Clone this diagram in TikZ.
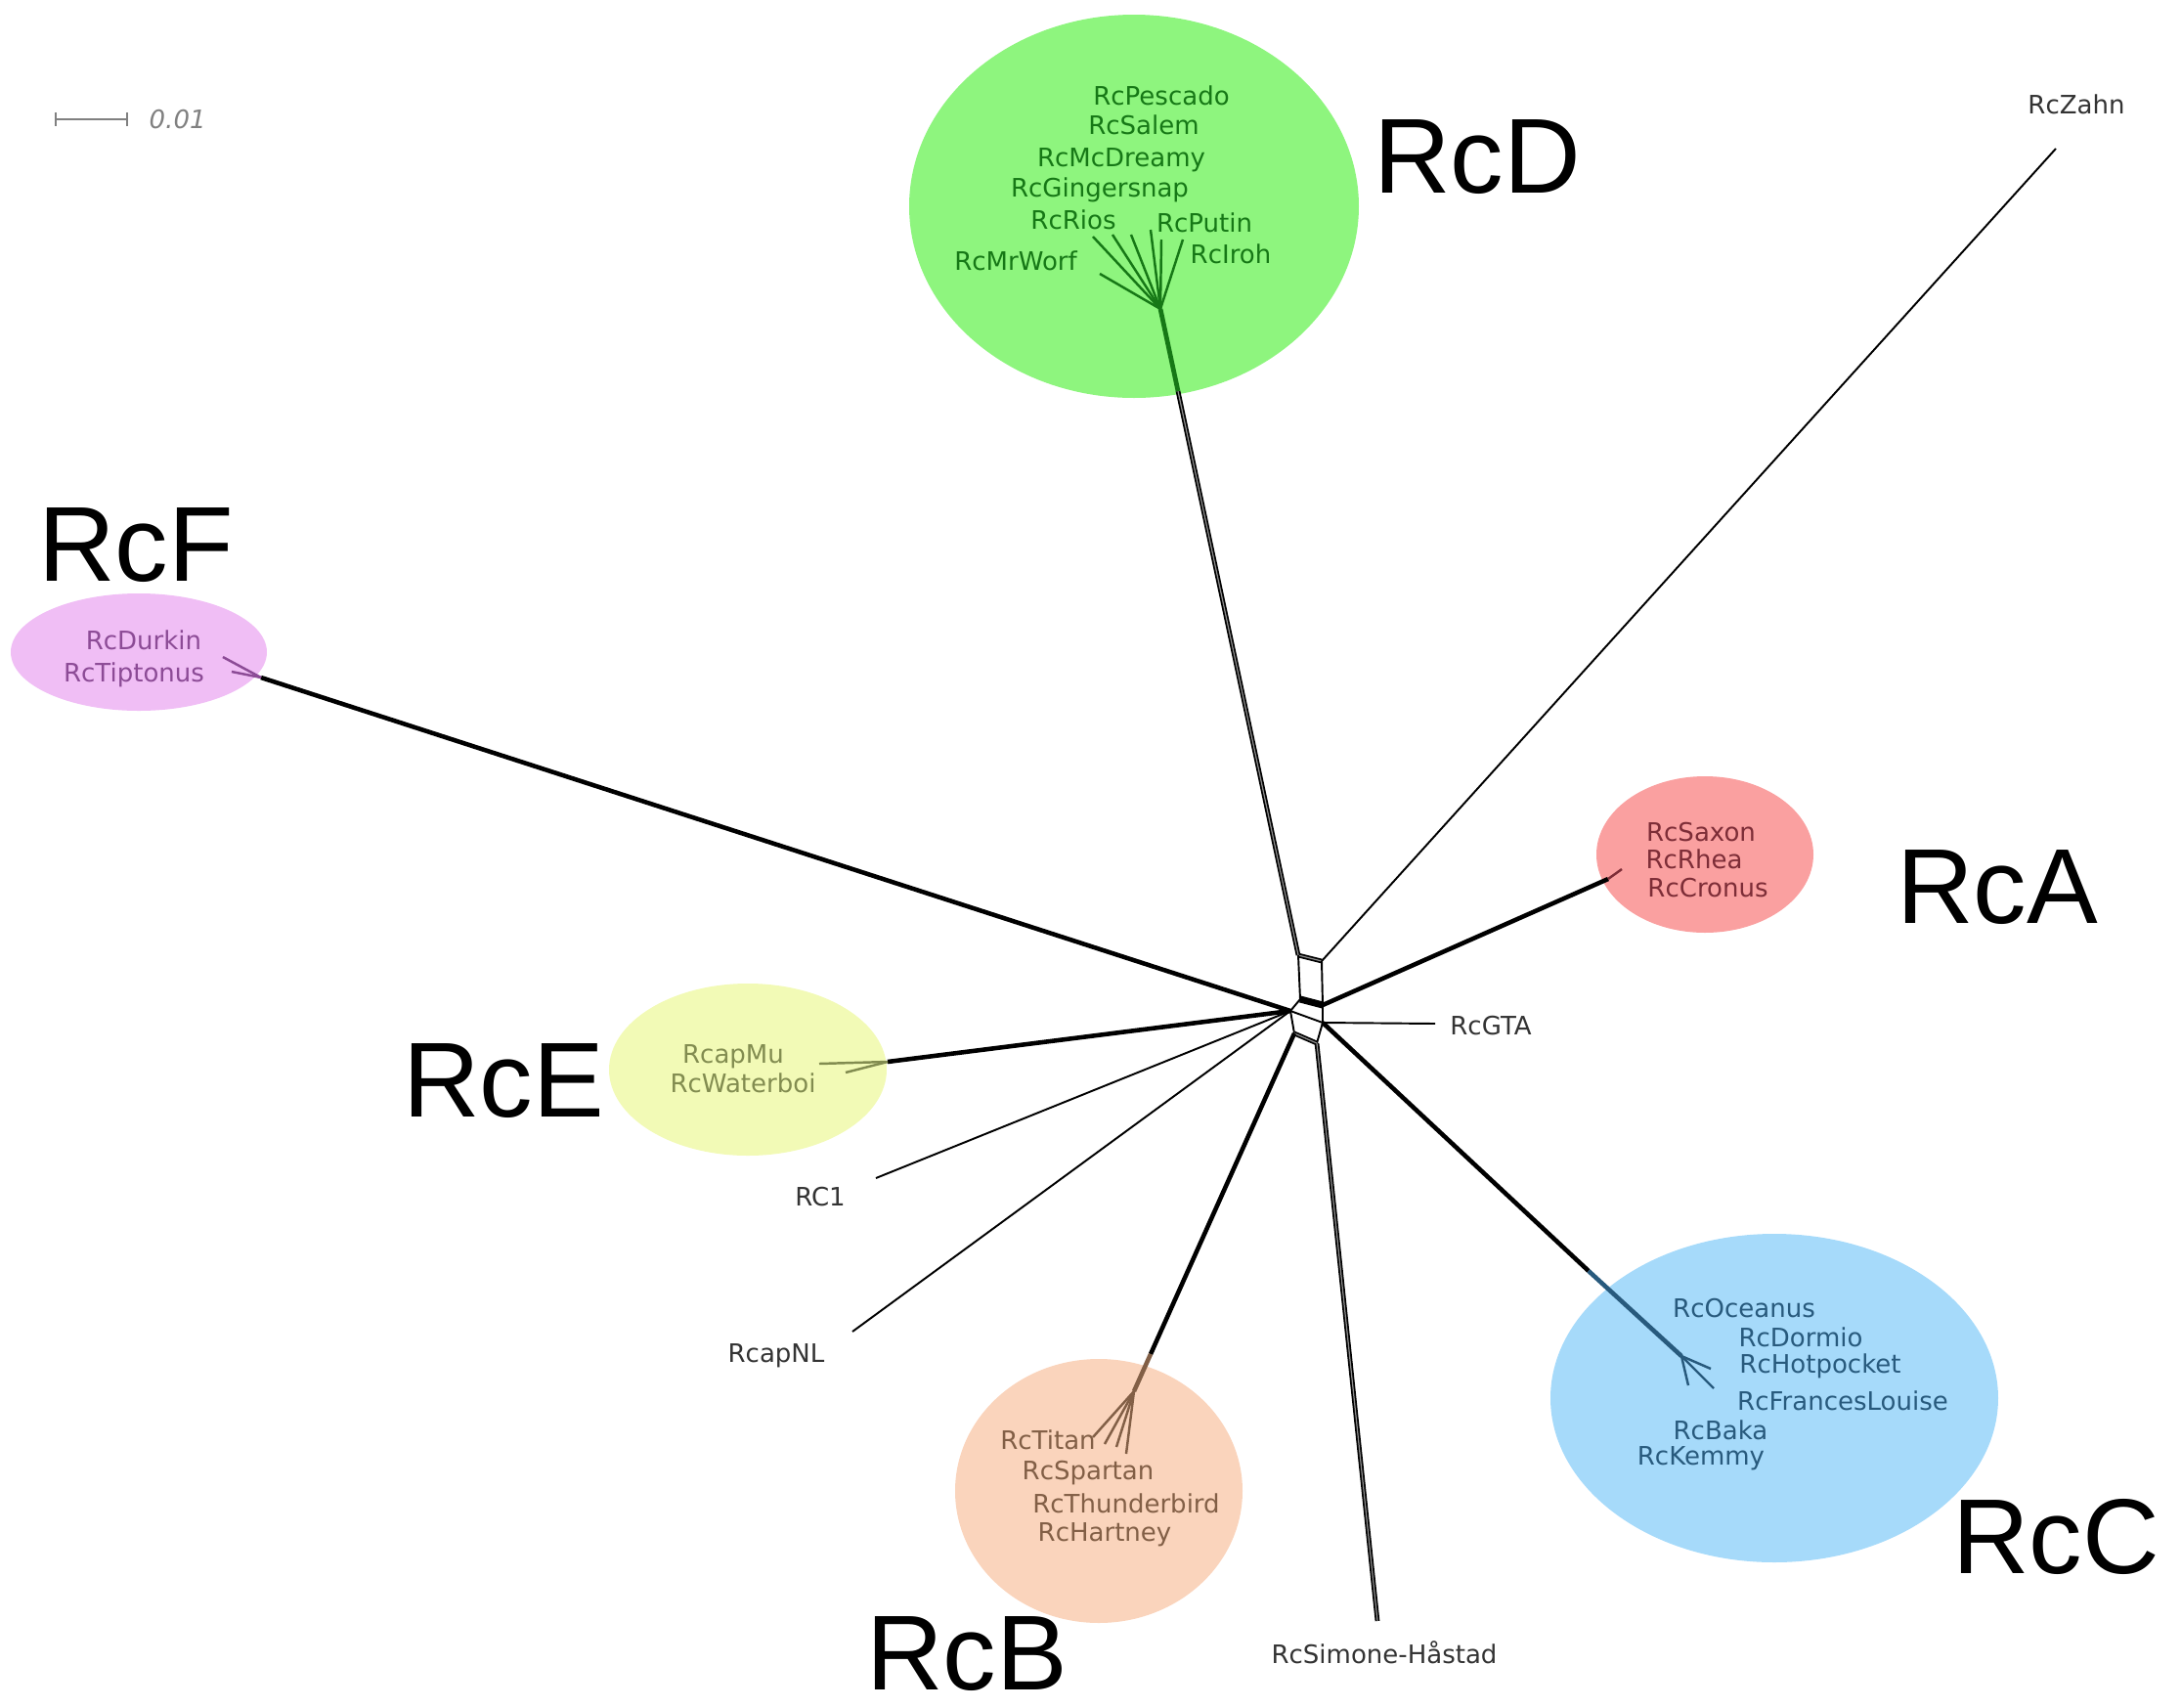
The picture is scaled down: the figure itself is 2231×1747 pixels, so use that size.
\documentclass[tikz,border=0pt]{standalone}
\usepackage{fontspec}
\setmainfont{DejaVu Sans}
\newfontfamily\cladefont{Liberation Sans}
\usetikzlibrary{shapes.geometric}

\definecolor{dfill}{RGB}{142,245,126}
\definecolor{dtext}{RGB}{22,120,22}
\definecolor{ffill}{RGB}{240,190,245}
\definecolor{ftext}{RGB}{140,75,150}
\definecolor{efill}{RGB}{242,250,182}
\definecolor{etext}{RGB}{130,140,80}
\definecolor{afill}{RGB}{250,160,160}
\definecolor{atext}{RGB}{125,45,55}
\definecolor{cfill}{RGB}{166,218,250}
\definecolor{ctext}{RGB}{40,90,125}
\definecolor{bfill}{RGB}{250,212,188}
\definecolor{btext}{RGB}{130,95,70}

\begin{document}
\begin{tikzpicture}[x=0.1mm, y=-0.1mm]
\tikzstyle{taxon}=[font=\fontsize{7.4}{8}\selectfont, inner sep=0pt, text=black!80]
\tikzstyle{clade}=[font=\cladefont\fontsize{31}{34}\selectfont, inner sep=0pt]
\tikzstyle{blob}=[ellipse, inner sep=0pt]
\tikzstyle{edge}=[line width=0.55pt]
\tikzstyle{stem}=[line width=1.3pt]
\tikzstyle{twin}=[line width=0.5pt, double=black!45, double distance=0.35pt]
\tikzstyle{fan}=[line width=0.7pt]
\useasboundingbox (0,0) rectangle (2231,1747);

% clade backgrounds
\node[blob, fill=dfill, minimum width=46mm, minimum height=39.2mm] (D) at (1160,211) {};
\node[blob, fill=ffill, minimum width=26.2mm, minimum height=12mm] (F) at (142,667) {};
\node[blob, fill=efill, minimum width=28.4mm, minimum height=17.6mm] (E) at (765,1094) {};
\node[blob, fill=afill, minimum width=22.2mm, minimum height=16mm] (A) at (1744,874) {};
\node[blob, fill=cfill, minimum width=45.8mm, minimum height=33.6mm] (C) at (1815,1430) {};
\node[blob, fill=bfill, minimum width=29.4mm, minimum height=27mm] (B) at (1124,1525) {};

% splits in the middle
\coordinate (p1) at (1328,977);
\coordinate (p2) at (1352,983);
\coordinate (p3) at (1330,1022);
\coordinate (p4) at (1353,1028);
\coordinate (p5) at (1320,1034);
\coordinate (p6) at (1353,1046);
\coordinate (p7) at (1324,1057);
\coordinate (p8) at (1347,1067);
\draw[twin] (p1) -- (p2);
\draw[edge] (p1) -- (p3) -- (p5) -- (p7);
\draw[edge] (p2) -- (p4) -- (p6) -- (p8);
\draw[line width=2pt] (p3) -- (p4);
\draw[edge] (p5) -- (p6);
\draw[twin] (p7) -- (p8);

% hubs and tips
\coordinate (hD) at (1187,316);
\coordinate (eD) at (1205,400);
\coordinate (tZ) at (2103,152);
\coordinate (eA) at (1645,899);
\coordinate (hA) at (1659,889);
\coordinate (tG) at (1468,1047);
\coordinate (eC) at (1625,1300);
\coordinate (hC) at (1720,1387);
\coordinate (tS) at (1409,1658);
\coordinate (eB) at (1177,1385);
\coordinate (hB) at (1160,1423);
\coordinate (tN) at (872,1362);
\coordinate (t1) at (896,1205);
\coordinate (eE) at (908,1086);
\coordinate (hF) at (267,693);

\draw[twin] (p1) -- (eD);
\draw[twin, dtext, double=dtext] (eD) -- (hD);
\draw[edge] (p2) -- (tZ);
\draw[stem] (p4) -- (eA);
\draw[fan, atext] (eA) -- (hA);
\draw[edge] (p6) -- (tG);
\draw[stem] (p6) -- (eC);
\draw[stem, ctext] (eC) -- (hC);
\draw[twin] (p8) -- (tS);
\draw[stem] (p7) -- (eB);
\draw[stem, btext] (eB) -- (hB);
\draw[edge] (p5) -- (tN);
\draw[edge] (p5) -- (t1);
\draw[stem] (p5) -- (eE);
\draw[stem] (p5) -- (hF);

% fans
\foreach \x/\y in {1118/242, 1138/240, 1157/240, 1177/235, 1188/245, 1210/245, 1125/280}
  \draw[fan, dtext] (hD) -- (\x,\y);
\foreach \x/\y in {1727/1417, 1753/1420, 1750/1400}
  \draw[fan, ctext] (hC) -- (\x,\y);
\foreach \x/\y in {1118/1470, 1130/1477, 1142/1480, 1152/1487}
  \draw[fan, btext] (hB) -- (\x,\y);
\foreach \x/\y in {228/672, 237/687}
  \draw[fan, ftext] (hF) -- (\x,\y);
\foreach \x/\y in {838/1088, 865/1097}
  \draw[fan, etext] (eE) -- (\x,\y);

% taxa
\node[taxon, text=dtext] (d0) at (1188,98) {RcPescado};
\node[taxon, text=dtext] (d1) at (1170,128) {RcSalem};
\node[taxon, text=dtext] (d2) at (1147,164) {RcMcDreamy};
\node[taxon, text=dtext] (d3) at (1125,194) {RcGingersnap};
\node[taxon, text=dtext] (d4) at (1098,225) {RcRios};
\node[taxon, text=dtext] (d5) at (1232,228) {RcPutin};
\node[taxon, text=dtext] (d6) at (1259,260) {RcIroh};
\node[taxon, text=dtext] (d7) at (1039,267) {RcMrWorf};
\node[taxon, text=ftext] (f0) at (147,655) {RcDurkin};
\node[taxon, text=ftext] (f1) at (137,690) {RcTiptonus};
\node[taxon, text=etext] (e0) at (750,1081) {RcapMu};
\node[taxon, text=etext] (e1) at (760,1108) {RcWaterboi};
\node[taxon, text=atext] (a0) at (1740,851) {RcSaxon};
\node[taxon, text=atext] (a1) at (1733,879) {RcRhea};
\node[taxon, text=atext] (a2) at (1747,908) {RcCronus};
\node[taxon, text=ctext] (c0) at (1784,1338) {RcOceanus};
\node[taxon, text=ctext] (c1) at (1842,1368) {RcDormio};
\node[taxon, text=ctext] (c2) at (1862,1397) {RcHotpocket};
\node[taxon, text=ctext] (c3) at (1885,1433) {RcFrancesLouise};
\node[taxon, text=ctext] (c4) at (1760,1463) {RcBaka};
\node[taxon, text=ctext] (c5) at (1740,1492) {RcKemmy};
\node[taxon, text=btext] (b0) at (1072,1473) {RcTitan};
\node[taxon, text=btext] (b1) at (1113,1507) {RcSpartan};
\node[taxon, text=btext] (b2) at (1152,1538) {RcThunderbird};
\node[taxon, text=btext] (b3) at (1130,1570) {RcHartney};
\node[taxon] (z) at (2124,107) {RcZahn};
\node[taxon] (g) at (1525,1049) {RcGTA};
\node[taxon] (s) at (1416,1690) {RcSimone-Håstad};
\node[taxon] (n) at (794,1387) {RcapNL};
\node[taxon] (r) at (839,1224) {RC1};

% clade names
\node[clade] (lD) at (1511,161) {RcD};
\node[clade] (lF) at (139,558) {RcF};
\node[clade] (lA) at (2043,908) {RcA};
\node[clade] (lE) at (515,1106) {RcE};
\node[clade] (lC) at (2103,1572) {RcC};
\node[clade] (lB) at (989,1692) {RcB};

% scale
\coordinate (s0) at (57,122);
\coordinate (s1) at (130,122);
\draw[gray, line width=0.8pt] (s0) -- (s1);
\draw[gray, line width=0.8pt] ([yshift=0.7mm]s0) -- ([yshift=-0.7mm]s0);
\draw[gray, line width=0.8pt] ([yshift=0.7mm]s1) -- ([yshift=-0.7mm]s1);
\node[taxon, anchor=west, text=gray, font=\fontsize{7.4}{8}\selectfont\itshape] (sl) at (152,122) {0.01};
\end{tikzpicture}
\end{document}
